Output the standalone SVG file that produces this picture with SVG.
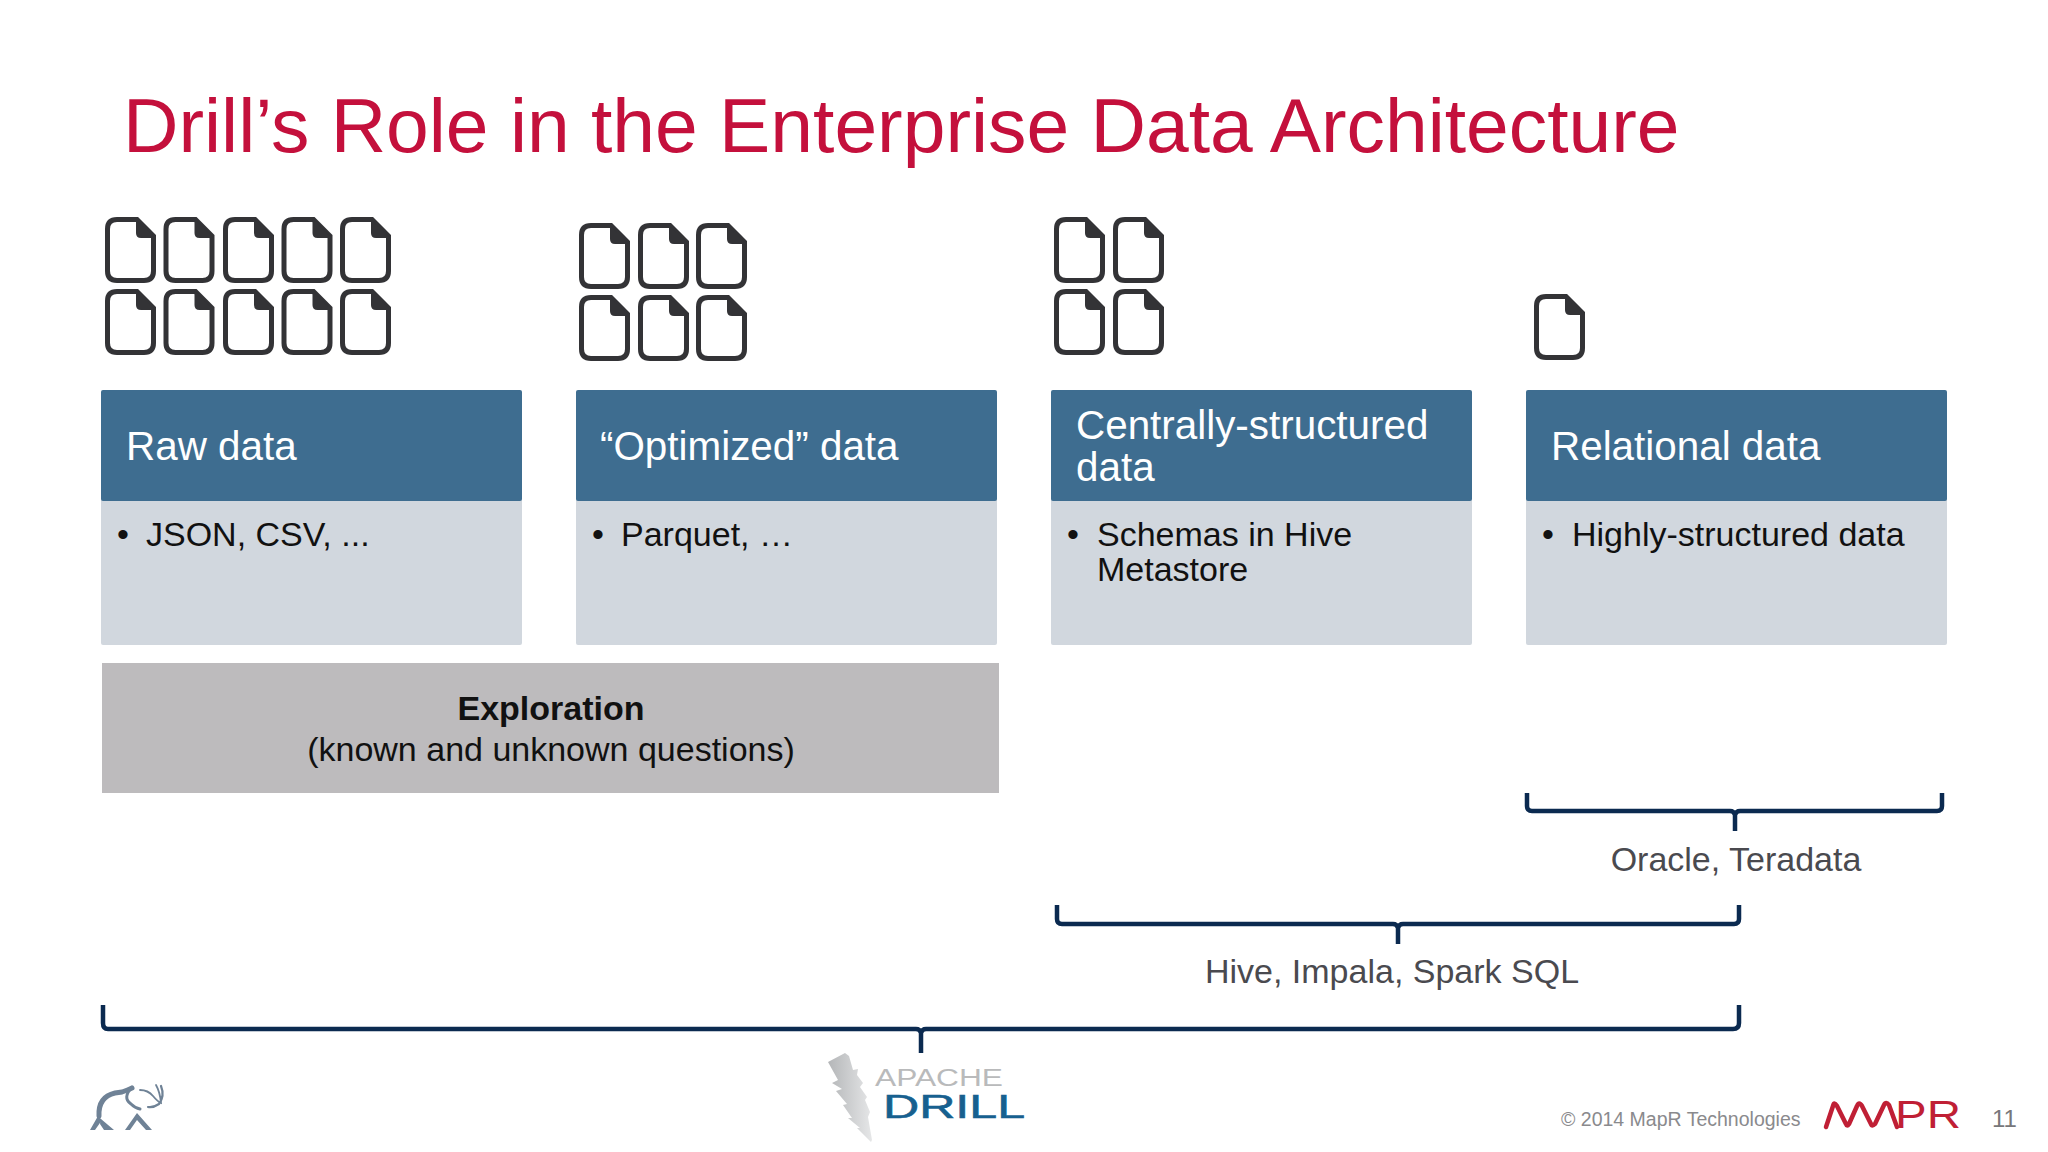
<svg xmlns="http://www.w3.org/2000/svg" xmlns:xlink="http://www.w3.org/1999/xlink" width="2048" height="1152" viewBox="0 0 2048 1152">
<style>
text{font-family:"Liberation Sans",Arial,sans-serif}
.hd{fill:#3e6d90}.bd{fill:#d1d7de}
.ht{font-size:40.400px;fill:#fff}
.bt{font-size:34px;fill:#111}
.lb{font-size:34px;fill:#4a4a4f}
.br{fill:none;stroke:#0b2a50;stroke-width:4.500;stroke-linejoin:round}
</style>
<defs>
<linearGradient id="drillg" x1="0" y1="0" x2="1" y2="0"><stop offset="0" stop-color="#b4b6b8"/><stop offset="1" stop-color="#e6e7e8"/></linearGradient>
<g id="file">
<path d="M14 2.500H32L48.500 19V54Q48.500 63.500 39 63.500H12Q2.500 63.500 2.500 54V12Q2.500 2.500 12 2.500Z" fill="#fff" stroke="#333336" stroke-width="5"/>
<path d="M31 2.500L48.500 19V21H36Q31 21 31 16Z" fill="#333336"/>
</g>
</defs>
<rect width="2048" height="1152" fill="#fff"/>
<text x="123" y="152" font-size="76.800" fill="#c4103c">Drill’s Role in the Enterprise Data Architecture</text>

<g id="icons-raw">
<use xlink:href="#file" x="105" y="217"/><use xlink:href="#file" x="163.500" y="217"/><use xlink:href="#file" x="223" y="217"/><use xlink:href="#file" x="281.500" y="217"/><use xlink:href="#file" x="340" y="217"/>
<use xlink:href="#file" x="105" y="289"/><use xlink:href="#file" x="163.500" y="289"/><use xlink:href="#file" x="223" y="289"/><use xlink:href="#file" x="281.500" y="289"/><use xlink:href="#file" x="340" y="289"/>
</g>
<g id="icons-optimized">
<use xlink:href="#file" x="579" y="223"/><use xlink:href="#file" x="638" y="223"/><use xlink:href="#file" x="696" y="223"/>
<use xlink:href="#file" x="579" y="295"/><use xlink:href="#file" x="638" y="295"/><use xlink:href="#file" x="696" y="295"/>
</g>
<g id="icons-central">
<use xlink:href="#file" x="1054" y="217"/><use xlink:href="#file" x="1113" y="217"/>
<use xlink:href="#file" x="1054" y="289"/><use xlink:href="#file" x="1113" y="289"/>
</g>
<g id="icons-relational"><use xlink:href="#file" x="1534" y="294"/></g>

<g id="raw-data">
<rect class="bd" x="101" y="498" width="421" height="147" rx="2"/><rect class="hd" x="101" y="390" width="421" height="111" rx="2"/>
<text class="ht" x="126" y="460">Raw data</text>
<text class="bt" x="117" y="546">•</text><text class="bt" x="146" y="546">JSON, CSV, ...</text>
</g>
<g id="optimized-data">
<rect class="bd" x="576" y="498" width="421" height="147" rx="2"/><rect class="hd" x="576" y="390" width="421" height="111" rx="2"/>
<text class="ht" x="600" y="460">“Optimized” data</text>
<text class="bt" x="592" y="546">•</text><text class="bt" x="621" y="546">Parquet, …</text>
</g>
<g id="central-data">
<rect class="bd" x="1051" y="498" width="421" height="147" rx="2"/><rect class="hd" x="1051" y="390" width="421" height="111" rx="2"/>
<text class="ht" x="1076" y="439">Centrally-structured</text><text class="ht" x="1076" y="481">data</text>
<text class="bt" x="1067" y="546">•</text><text class="bt" x="1097" y="546">Schemas in Hive</text><text class="bt" x="1097" y="581">Metastore</text>
</g>
<g id="relational-data">
<rect class="bd" x="1526" y="498" width="421" height="147" rx="2"/><rect class="hd" x="1526" y="390" width="421" height="111" rx="2"/>
<text class="ht" x="1551" y="460">Relational data</text>
<text class="bt" x="1542" y="546">•</text><text class="bt" x="1572" y="546">Highly-structured data</text>
</g>
<g id="exploration">
<rect x="102" y="663" width="897" height="130" fill="#bdbbbd"/>
<text x="551" y="720" font-size="34" font-weight="700" fill="#111" text-anchor="middle">Exploration</text>
<text x="551" y="761" font-size="34" fill="#111" text-anchor="middle">(known and unknown questions)</text>
</g>

<g id="connectors">
<path class="br" d="M1527 793V806Q1527 811 1532 811H1730Q1734 811 1735 815Q1736 811 1740 811H1937Q1942 811 1942 806V793M1735 815V831"/>
<path class="br" d="M1057 905V919Q1057 924 1062 924H1393Q1397 924 1398 928Q1399 924 1403 924H1734Q1739 924 1739 919V905M1398 928V944"/>
<path class="br" d="M103 1005V1023Q103 1029 108 1029H916Q920 1029 921 1033Q922 1029 926 1029H1733Q1739 1029 1739 1023V1005M921 1033V1053"/>
</g>
<text class="lb" x="1736" y="871" text-anchor="middle">Oracle, Teradata</text>
<text class="lb" x="1392" y="983" text-anchor="middle">Hive, Impala, Spark SQL</text>

<g id="elephant-logo" fill="none" stroke="#6f8296" stroke-linecap="round">
<path d="M99 1116Q98 1097 115 1093L122 1092Q128 1090 132 1088" stroke-width="5"/>
<path d="M132 1087Q122 1098 131 1104Q135 1108 140 1109" stroke-width="3"/>
<path d="M140 1090Q148 1090 153 1096Q158 1102 161 1103Q160 1092 156 1085" stroke-width="1.800"/>
<path d="M161 1086Q165 1096 159 1104Q153 1108 148 1107" stroke-width="2.200"/>
<path fill="#6f8296" stroke="none" d="M90 1130L98 1116L102 1120L95 1130ZM101 1119L114 1130H104L100 1124Z"/>
<path fill="#6f8296" stroke="none" d="M125 1130L137 1113L152 1130H146L137 1120L130 1130Z"/>
</g>
<g id="drill-logo">
<path fill="url(#drillg)" d="M845 1053L849 1056L853 1070L858 1069L857 1075L863 1083L860 1087L867 1097L865 1100L870 1112L868 1117L872 1140L871 1142L857 1128L860 1128L848 1118L852 1118L843 1105L847 1104L836 1091L842 1089L832 1083L838 1080L828 1062Z"/>
<text x="875" y="1086" font-size="23" fill="#b9babb" textLength="128" lengthAdjust="spacingAndGlyphs">APACHE</text>
<text x="883" y="1118" font-size="34" fill="#17608f" stroke="#17608f" stroke-width=".6" textLength="142" lengthAdjust="spacingAndGlyphs">DRILL</text>
</g>
<text x="1561" y="1126" font-size="19.500" fill="#8a8a8d">© 2014 MapR Technologies</text>
<g id="mapr-logo">
<path fill="none" stroke="#c01f35" stroke-width="4.500" stroke-linejoin="round" stroke-linecap="round" d="M1826 1127L1833 1106Q1834 1101 1837 1106L1846 1124Q1847 1127 1849 1124L1857 1106Q1859 1101 1862 1106L1871 1124Q1872 1127 1875 1124L1884 1105Q1886 1101 1889 1105L1897 1127"/>
<text x="1895" y="1128" font-size="39" fill="#c01f35" textLength="66" lengthAdjust="spacingAndGlyphs">PR</text>
</g>
<text x="1992" y="1127" font-size="24" fill="#77777a">11</text>
</svg>
